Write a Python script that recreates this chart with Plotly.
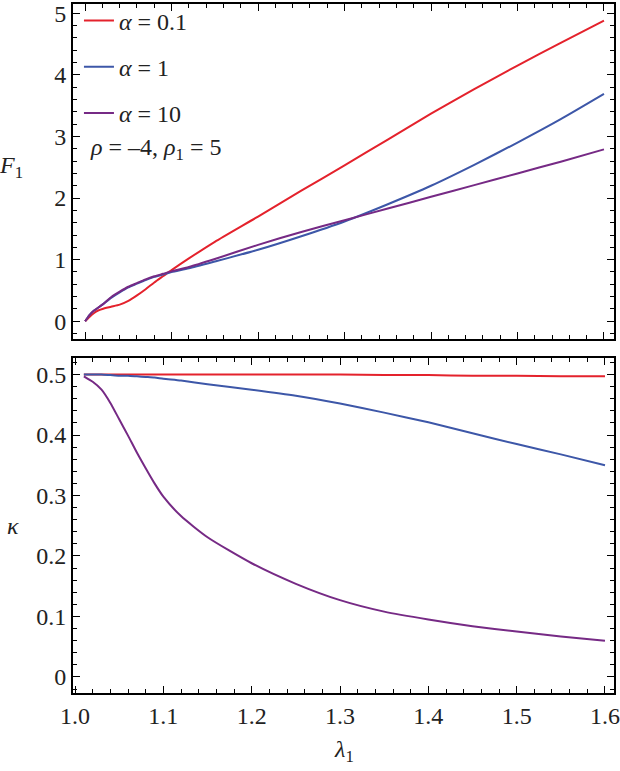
import plotly.graph_objects as go
from plotly.subplots import make_subplots

# ---------------- data ----------------
lam_top = [1.0, 1.005, 1.01, 1.015, 1.02, 1.03, 1.04, 1.05, 1.06, 1.07, 1.08, 1.09,
           1.10, 1.12, 1.15, 1.2, 1.25, 1.3, 1.35, 1.4, 1.45, 1.5, 1.55, 1.6]
F1_a01 = [0.0, 0.07, 0.13, 0.175, 0.20, 0.235, 0.27, 0.33, 0.42, 0.52, 0.63, 0.73,
          0.83, 1.02, 1.29, 1.70, 2.12, 2.53, 2.95, 3.37, 3.77, 4.15, 4.52, 4.88]
F1_a1 = [0.0, 0.10, 0.17, 0.22, 0.27, 0.38, 0.47, 0.55, 0.61, 0.67, 0.72, 0.76,
         0.80, 0.86, 0.97, 1.16, 1.38, 1.62, 1.90, 2.20, 2.54, 2.90, 3.28, 3.69]
F1_a10 = [0.0, 0.10, 0.17, 0.22, 0.27, 0.39, 0.48, 0.56, 0.62, 0.68, 0.73, 0.77,
          0.81, 0.88, 1.01, 1.24, 1.45, 1.64, 1.83, 2.02, 2.21, 2.40, 2.59, 2.79]

lam_bot = [1.01, 1.02, 1.03, 1.04, 1.05, 1.06, 1.07, 1.08, 1.09, 1.10, 1.12, 1.15,
           1.2, 1.25, 1.3, 1.35, 1.4, 1.45, 1.5, 1.55, 1.6]
k_a01 = [0.500, 0.500, 0.500, 0.500, 0.500, 0.500, 0.500, 0.500, 0.500, 0.500, 0.500, 0.500,
         0.500, 0.500, 0.500, 0.499, 0.499, 0.498, 0.498, 0.497, 0.497]
k_a1 = [0.500, 0.500, 0.500, 0.499, 0.498, 0.498, 0.497, 0.496, 0.495, 0.493, 0.490, 0.484,
        0.475, 0.465, 0.452, 0.437, 0.421, 0.403, 0.385, 0.368, 0.350]
k_a10 = [0.497, 0.488, 0.475, 0.453, 0.426, 0.399, 0.371, 0.345, 0.320, 0.298, 0.266, 0.231,
         0.188, 0.154, 0.127, 0.108, 0.095, 0.084, 0.075, 0.067, 0.060]

names = ["<i>α</i> = 0.1", "<i>α</i> = 1", "<i>α</i> = 10"]
colors = ["#E4222C", "#3D57A8", "#762A85"]
F1_series = [F1_a01, F1_a1, F1_a10]
k_series = [k_a01, k_a1, k_a10]

SERIF = "Liberation Serif"
TXT = "#222"
FS = 24

fig = make_subplots(rows=2, cols=1, shared_xaxes=False, vertical_spacing=0.029)

for name, col, F in zip(names, colors, F1_series):
    fig.add_trace(go.Scatter(x=lam_top, y=F, mode="lines", name=name,
                             legendgroup=name,
                             line=dict(color=col, width=2, shape="spline", smoothing=0.6)),
                  row=1, col=1)
for name, col, k in zip(names, colors, k_series):
    fig.add_trace(go.Scatter(x=lam_bot, y=k, mode="lines", name=name,
                             legendgroup=name, showlegend=False,
                             line=dict(color=col, width=2, shape="spline", smoothing=0.6)),
                  row=2, col=1)

axis_common = dict(showline=True, linecolor="black", linewidth=2, mirror="allticks",
                   ticks="inside", ticklen=7, tickwidth=1.3, tickcolor="black",
                   showgrid=False, zeroline=False,
                   tickfont=dict(family=SERIF, size=FS, color=TXT))
minor_common = dict(ticks="inside", ticklen=4, tickwidth=1, tickcolor="black")

fig.update_xaxes(**axis_common, range=[0.986, 1.6116], dtick=0.1, tick0=1.0,
                 showticklabels=False,
                 minor=dict(**minor_common, dtick=0.02),
                 row=1, col=1)
fig.update_xaxes(**axis_common, range=[0.9977, 1.6102], dtick=0.1, tick0=1.0,
                 tickformat=".1f",
                 minor=dict(**minor_common, dtick=0.02),
                 row=2, col=1)
fig.update_yaxes(**axis_common, range=[-0.28, 5.15], dtick=1, tick0=0,
                 minor=dict(**minor_common, dtick=0.2),
                 row=1, col=1)
fig.update_yaxes(**axis_common, range=[-0.0265, 0.5265],
                 tickvals=[0, 0.1, 0.2, 0.3, 0.4, 0.5], ticktext=["0", "0.1", "0.2", "0.3", "0.4", "0.5"],
                 minor=dict(**minor_common, dtick=0.02),
                 row=2, col=1)

fig.update_layout(
    width=620, height=771,
    margin=dict(l=73, r=6, t=4, b=78, autoexpand=False),
    paper_bgcolor="white", plot_bgcolor="white",
    showlegend=True,
    legend=dict(x=0.011, y=1.008, xanchor="left", yanchor="top",
                bgcolor="rgba(0,0,0,0)", tracegroupgap=12,
                font=dict(family=SERIF, size=FS, color=TXT)),
    annotations=[
        dict(text="<i>ρ</i> = –4, <i>ρ</i><sub>1</sub> = 5", xref="x", yref="y",
             x=1.003, y=2.8, xanchor="left", yanchor="middle", showarrow=False,
             font=dict(family=SERIF, size=FS, color=TXT)),
        dict(text="<i>F</i><sub>1</sub>", xref="paper", yref="y",
             x=-0.115, y=2.5, xanchor="center", yanchor="middle", showarrow=False,
             font=dict(family=SERIF, size=FS, color=TXT)),
        dict(text="<i>κ</i>", xref="paper", yref="y2",
             x=-0.11, y=0.25, xanchor="center", yanchor="middle", showarrow=False,
             font=dict(family=SERIF, size=FS, color=TXT)),
        dict(text="<i>λ</i><sub>1</sub>", xref="x2", yref="paper",
             x=1.305, y=-0.084, xanchor="center", yanchor="middle", showarrow=False,
             font=dict(family=SERIF, size=FS, color=TXT)),
    ],
)

fig.write_html("out.html", config={"displayModeBar": False},
               post_script="document.body.style.margin='0';document.body.style.padding='0';")
